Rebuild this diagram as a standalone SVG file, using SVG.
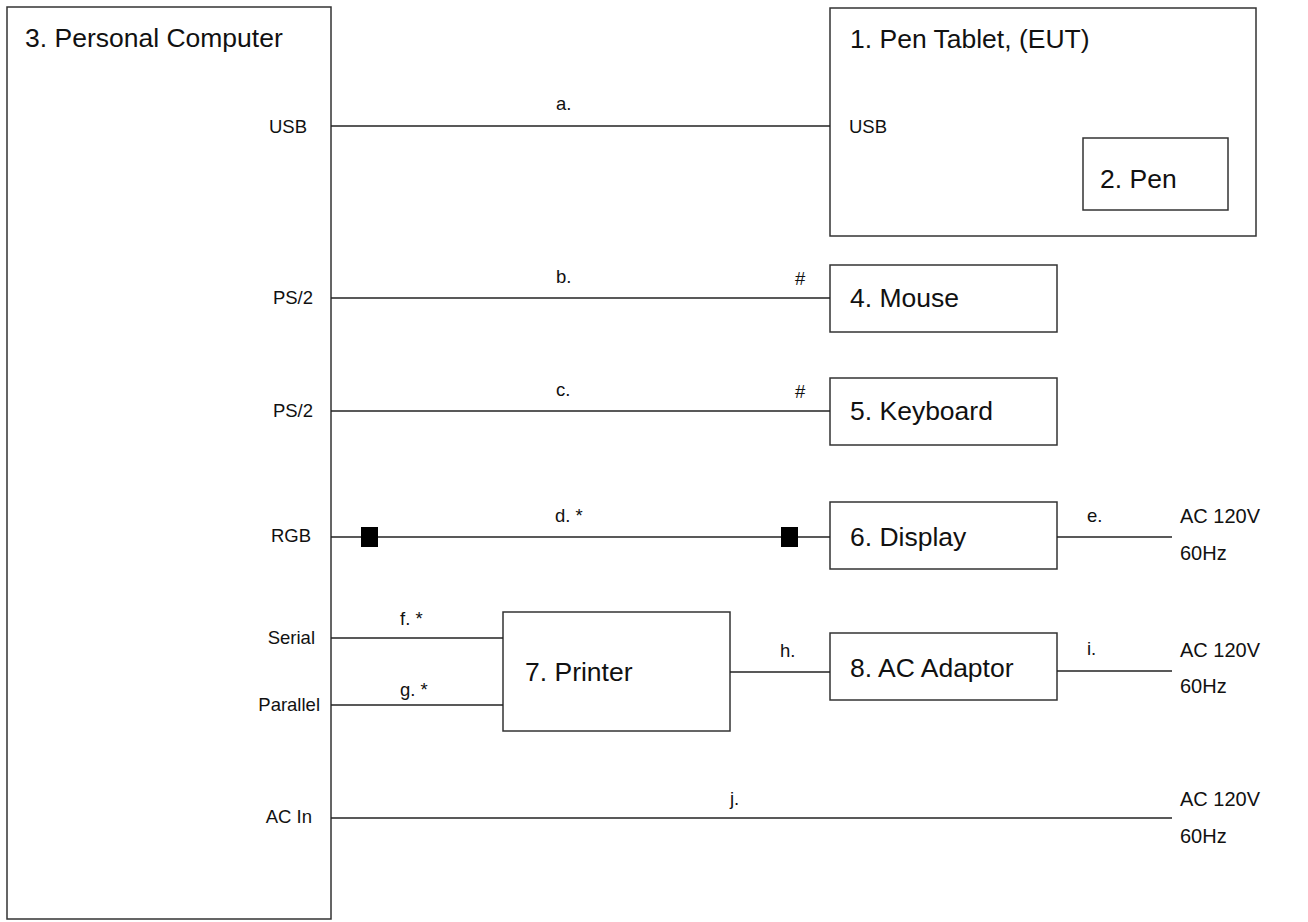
<svg xmlns="http://www.w3.org/2000/svg" width="1308" height="922" viewBox="0 0 1308 922">
<style>
.box{fill:#fff;stroke:#333;stroke-width:1.5}
.ln{stroke:#222;stroke-width:1.5;fill:none}
.t{font-family:"Liberation Sans",Arial,sans-serif;fill:#111}
.big{font-size:26.5px}
.sm{font-size:18.5px}
.pw{font-size:20px}
.end{text-anchor:end}
</style>
<rect width="1308" height="922" fill="#fff"/>
<g id="pc">
<rect class="box" x="7" y="7" width="324" height="912"/>
<text class="t big" x="25" y="47">3. Personal Computer</text>
<text class="t sm end" x="307" y="133">USB</text>
<text class="t sm end" x="313" y="304">PS/2</text>
<text class="t sm end" x="313" y="417">PS/2</text>
<text class="t sm end" x="311" y="542">RGB</text>
<text class="t sm end" x="315" y="644">Serial</text>
<text class="t sm end" x="320" y="711">Parallel</text>
<text class="t sm end" x="312" y="823">AC In</text>
</g>
<g id="tablet">
<rect class="box" x="830" y="8" width="426" height="228"/>
<text class="t big" x="850" y="48">1. Pen Tablet, (EUT)</text>
<text class="t sm" x="849" y="133">USB</text>
</g>
<g id="pen">
<rect class="box" x="1083" y="138" width="145" height="72"/>
<text class="t big" x="1100" y="188">2. Pen</text>
</g>
<g id="mouse">
<rect class="box" x="830" y="265" width="227" height="67"/>
<text class="t big" x="850" y="307">4. Mouse</text>
</g>
<g id="keyboard">
<rect class="box" x="830" y="378" width="227" height="67"/>
<text class="t big" x="850" y="420">5. Keyboard</text>
</g>
<g id="display">
<rect class="box" x="830" y="502" width="227" height="67"/>
<text class="t big" x="850" y="546">6. Display</text>
</g>
<g id="printer">
<rect class="box" x="503" y="612" width="227" height="119"/>
<text class="t big" x="525" y="681">7. Printer</text>
</g>
<g id="adaptor">
<rect class="box" x="830" y="633" width="227" height="67"/>
<text class="t big" x="850" y="677">8. AC Adaptor</text>
</g>
<g id="power">
<text class="t pw" x="1180" y="523">AC 120V</text>
<text class="t pw" x="1180" y="560">60Hz</text>
<text class="t pw" x="1180" y="657">AC 120V</text>
<text class="t pw" x="1180" y="693">60Hz</text>
<text class="t pw" x="1180" y="806">AC 120V</text>
<text class="t pw" x="1180" y="843">60Hz</text>
</g>
<g id="connectors">
<line class="ln" x1="331" y1="126" x2="830" y2="126"/>
<line class="ln" x1="331" y1="298" x2="830" y2="298"/>
<line class="ln" x1="331" y1="411" x2="830" y2="411"/>
<line class="ln" x1="331" y1="537" x2="830" y2="537"/>
<rect x="361" y="527" width="17" height="20" fill="#000"/>
<rect x="781" y="527" width="17" height="20" fill="#000"/>
<line class="ln" x1="1057" y1="537" x2="1172" y2="537"/>
<line class="ln" x1="331" y1="638" x2="503" y2="638"/>
<line class="ln" x1="331" y1="705" x2="503" y2="705"/>
<line class="ln" x1="730" y1="672" x2="830" y2="672"/>
<line class="ln" x1="1057" y1="671" x2="1172" y2="671"/>
<line class="ln" x1="331" y1="818" x2="1172" y2="818"/>
<text class="t sm" x="556" y="110">a.</text>
<text class="t sm" x="556" y="283">b.</text>
<text class="t sm" x="795" y="285">#</text>
<text class="t sm" x="556" y="396">c.</text>
<text class="t sm" x="795" y="398">#</text>
<text class="t sm" x="555" y="522">d. *</text>
<text class="t sm" x="1087" y="522">e.</text>
<text class="t sm" x="400" y="625">f. *</text>
<text class="t sm" x="400" y="696">g. *</text>
<text class="t sm" x="780" y="657">h.</text>
<text class="t sm" x="1087" y="655">i.</text>
<text class="t sm" x="730" y="805">j.</text>
</g>
</svg>
